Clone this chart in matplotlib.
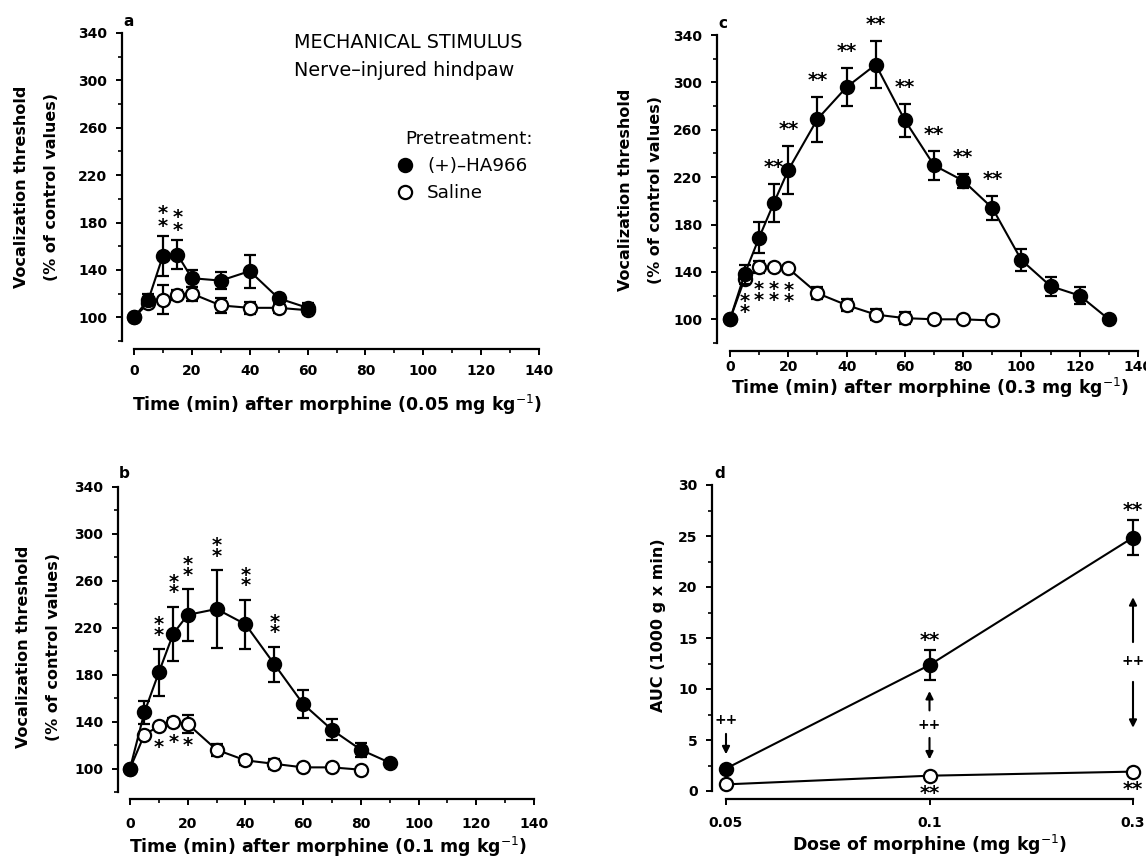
import matplotlib.pyplot as plt
from matplotlib.ticker import MultipleLocator
import numpy as np

plt.rcParams['font.family'] = ['DejaVu Sans']

W, H = 1146, 860

# panel a: morphine 0.05 mg/kg
t_a = [0, 5, 10, 15, 20, 30, 40, 50, 60]
ha_a = [100, 115, 152, 153, 133, 131, 139, 116, 108]
ha_a_err = [0, 5, 17, 12, 7, 7, 14, 4, 4]
ha_a_sig = ['', '', '**', '**', '', '', '', '', '']
sal_a = [100, 112, 115, 119, 120, 110, 108, 108, 106]
sal_a_err = [0, 4, 12, 4, 6, 6, 5, 4, 3]
sal_a_sig = [''] * 9

# panel b: morphine 0.1 mg/kg
t_b = [0, 5, 10, 15, 20, 30, 40, 50, 60, 70, 80, 90]
ha_b = [100, 148, 182, 215, 231, 236, 223, 189, 155, 133, 116, 105]
ha_b_err = [0, 10, 20, 23, 22, 33, 21, 15, 12, 9, 6, 0]
ha_b_sig = ['', '', '**', '**', '**', '**', '**', '**', '', '', '', '']
t_b_sal = [0, 5, 10, 15, 20, 30, 40, 50, 60, 70, 80]
sal_b = [100, 129, 136, 140, 138, 116, 107, 104, 101, 101, 99]
sal_b_err = [0, 0, 0, 3, 8, 5, 4, 4, 0, 0, 0]
sal_b_sig = ['', '', '*', '*', '*', '', '', '', '', '', '']

# panel c: morphine 0.3 mg/kg
t_c = [0, 5, 10, 15, 20, 30, 40, 50, 60, 70, 80, 90, 100, 110, 120, 130]
ha_c = [100, 138, 169, 198, 226, 269, 296, 315, 268, 230, 217, 194, 150, 128, 120, 100]
ha_c_err = [0, 8, 13, 16, 20, 19, 16, 20, 14, 12, 6, 10, 9, 8, 7, 0]
ha_c_sig = ['', '', '', '**', '**', '**', '**', '**', '**', '**', '**', '**', '', '', '', '']
t_c_sal = [0, 5, 10, 15, 20, 30, 40, 50, 60, 70, 80, 90]
sal_c = [100, 134, 144, 144, 143, 122, 112, 104, 101, 100, 100, 99]
sal_c_err = [0, 0, 5, 0, 0, 5, 5, 5, 5, 3, 0, 0]
sal_c_sig = ['', '**', '**', '**', '**', '', '', '', '', '', '', '']

# panel d: area under curve
doses = ['0.05', '0.1', '0.3']
auc_ha = [2.2, 12.35, 24.85]
auc_ha_err = [0, 1.45, 1.7]
auc_ha_sig = ['', '**', '**']
auc_sal = [0.65, 1.5, 1.9]
auc_sal_err = [0, 0, 0]
auc_sal_sig = ['', '**', '**']
# "++" between groups: label y, arrow up (from, to), arrow down (from, to)
plus_y = [7.0, 6.5, 12.7]
arrow_up = [None, (7.9, 9.8), (14.6, 19.0)]
arrow_down = [(5.6, 3.6), (5.2, 3.1), (10.7, 6.2)]


def px_axes(fig, left, right, top, bottom):
    return fig.add_axes([left / W, 1 - bottom / H, (right - left) / W, (bottom - top) / H])


def style_axes(ax, yout, xout, xpad):
    for s in ['top', 'right']:
        ax.spines[s].set_visible(False)
    ax.spines['left'].set_position(('outward', yout))
    ax.spines['bottom'].set_position(('outward', xout))
    for s in ['left', 'bottom']:
        ax.spines[s].set_linewidth(1.6)
    ax.tick_params(which='major', direction='out', length=4.5, width=1.4, labelsize=10)
    ax.tick_params(which='minor', direction='out', length=3, width=1.2)
    ax.tick_params(axis='y', which='major', pad=6)
    ax.tick_params(axis='x', which='major', pad=xpad)
    for lab in ax.get_xticklabels() + ax.get_yticklabels():
        lab.set_fontweight('bold')


def draw_series(ax, x, y, err, sig, filled, below=False, stack=False, off=0, ls=0.55):
    eb = ax.errorbar(x, y, yerr=err, color='black', lw=1.5, elinewidth=1.6,
                     capsize=4, capthick=1.6, marker='o', ms=9.5, mew=1.6,
                     mfc='black' if filled else 'white', mec='black',
                     zorder=4 if filled else 3, clip_on=False)
    for xi, yi, ei, s in zip(x, y, err, sig):
        if not s:
            continue
        txt = '\n'.join(s) if stack else s
        if below:
            # stars under the saline point
            ax.annotate(txt, (xi, yi), xytext=(0, off), textcoords='offset points',
                        ha='center', va='top', fontsize=14, fontweight='bold', linespacing=ls)
        else:
            ax.annotate(txt, (xi, yi + ei), xytext=(0, off), textcoords='offset points',
                        ha='center', va='bottom', fontsize=14, fontweight='bold', linespacing=ls)
    return eb.lines[0]


def time_panel(ax):
    ax.set_xlim(0, 140)
    ax.set_ylim(80, 340)
    ax.xaxis.set_major_locator(MultipleLocator(20))
    ax.xaxis.set_minor_locator(MultipleLocator(10))
    ax.yaxis.set_major_locator(MultipleLocator(40))
    ax.yaxis.set_minor_locator(MultipleLocator(20))
    ax.set_yticks(np.arange(100, 341, 40))


def fig_text(x, y, s, **kw):
    fig.text(x / W, 1 - y / H, s, **kw)


fig = plt.figure(figsize=(W / 100, H / 100), dpi=100)

xlabel_kw = dict(fontsize=12.5, fontweight='bold', ha='center', va='center')
ylabel_kw = dict(fontsize=11.5, fontweight='bold', ha='center', va='center', rotation=90)

# ---- a ----
ax_a = px_axes(fig, 134, 539, 33, 341)
time_panel(ax_a)
h_sal = draw_series(ax_a, t_a, sal_a, sal_a_err, sal_a_sig, False)
h_ha = draw_series(ax_a, t_a, ha_a, ha_a_err, ha_a_sig, True, stack=True, off=0, ls=0.6)
style_axes(ax_a, 8.6, 5.8, 6)
ax_a.legend([h_ha, h_sal], ['(+)\u2013HA966', 'Saline'], title='Pretreatment:',
            loc='upper left', bbox_to_anchor=(405 / W, 1 - 130 / H), bbox_transform=fig.transFigure,
            frameon=False, handlelength=0, handletextpad=1.2, labelspacing=0.5,
            borderpad=0, borderaxespad=0, fontsize=13.2, title_fontsize=13.2, alignment='left')
fig_text(294, 42, 'MECHANICAL STIMULUS', fontsize=13.8, ha='left', va='center')
fig_text(294, 70, 'Nerve\u2013injured hindpaw', fontsize=13.8, ha='left', va='center')
fig_text(337, 405, 'Time (min) after morphine (0.05 mg kg$^{-1}$)', **xlabel_kw)
fig_text(22, 187, 'Vocalization threshold', **ylabel_kw)
fig_text(52, 187, '(% of control values)', **ylabel_kw)
fig_text(123, 22, 'a', fontsize=11, fontweight='bold', ha='left', va='center')

# ---- c ----
ax_c = px_axes(fig, 730, 1138, 35, 343)
time_panel(ax_c)
draw_series(ax_c, t_c_sal, sal_c, sal_c_err, sal_c_sig, False, below=True, stack=True, off=-9, ls=0.5)
draw_series(ax_c, t_c, ha_c, ha_c_err, ha_c_sig, True, off=5)
style_axes(ax_c, 9.4, 5.8, 2.2)
fig_text(930, 388, 'Time (min) after morphine (0.3 mg kg$^{-1}$)', **xlabel_kw)
fig_text(625, 190, 'Vocalization threshold', **ylabel_kw)
fig_text(655, 190, '(% of control values)', **ylabel_kw)
fig_text(718, 23, 'c', fontsize=11, fontweight='bold', ha='left', va='center')

# ---- b ----
ax_b = px_axes(fig, 130, 534, 487, 792)
time_panel(ax_b)
draw_series(ax_b, t_b_sal, sal_b, sal_b_err, sal_b_sig, False, below=True, off=-8.5)
draw_series(ax_b, t_b, ha_b, ha_b_err, ha_b_sig, True, stack=True, off=3, ls=0.45)
style_axes(ax_b, 8.6, 5, 8.2)
fig_text(328, 847, 'Time (min) after morphine (0.1 mg kg$^{-1}$)', **xlabel_kw)
fig_text(24, 647, 'Vocalization threshold', **ylabel_kw)
fig_text(54, 647, '(% of control values)', **ylabel_kw)
fig_text(119, 473, 'b', fontsize=11, fontweight='bold', ha='left', va='center')

# ---- d ----
ax_d = px_axes(fig, 726, 1133, 485, 791)
pos = np.arange(len(doses))
ax_d.set_xlim(0, len(doses) - 1)
ax_d.set_ylim(0, 30)
ax_d.set_xticks(pos)
ax_d.set_xticklabels(doses)
ax_d.yaxis.set_major_locator(MultipleLocator(5))
ax_d.yaxis.set_minor_locator(MultipleLocator(2.5))
draw_series(ax_d, pos, auc_sal, auc_sal_err, auc_sal_sig, False, below=True, off=-6)
draw_series(ax_d, pos, auc_ha, auc_ha_err, auc_ha_sig, True)
for p, yp, up, dn in zip(pos, plus_y, arrow_up, arrow_down):
    ax_d.text(p, yp, '++', fontsize=10, fontweight='bold', ha='center', va='center')
    for seg in (up, dn):
        if seg is None:
            continue
        ax_d.annotate('', xy=(p, seg[1]), xytext=(p, seg[0]),
                      arrowprops=dict(arrowstyle='-|>', lw=1.5, color='black',
                                      mutation_scale=11, shrinkA=0, shrinkB=0))
style_axes(ax_d, 10, 5.8, 7.6)
fig_text(930, 845, 'Dose of morphine (mg kg$^{-1}$)', **xlabel_kw)
fig_text(658, 625, 'AUC (1000 g x min)', **ylabel_kw)
fig_text(714, 473, 'd', fontsize=11, fontweight='bold', ha='left', va='center')

fig.savefig('out.png', dpi=100)
